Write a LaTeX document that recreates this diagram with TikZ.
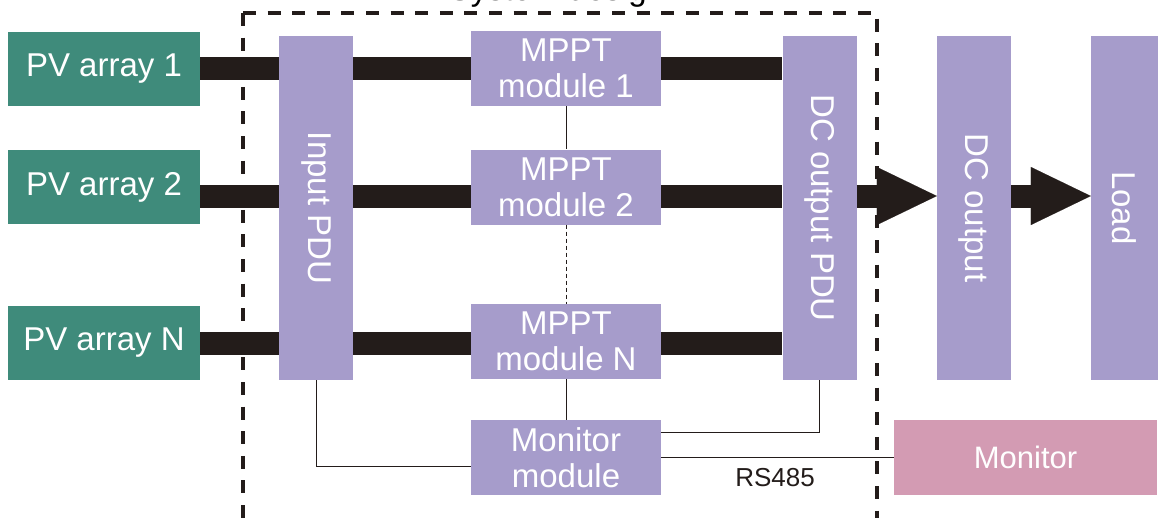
\documentclass[tikz,border=0pt]{standalone}
\usepackage{fontspec}
\setmainfont{Liberation Sans}
\usetikzlibrary{arrows.meta, positioning}

\definecolor{pvgreen}{HTML}{3F8B7B}
\definecolor{boxpurple}{HTML}{A69CCB}
\definecolor{monpink}{HTML}{D39BB3}
\definecolor{busblack}{HTML}{231C1A}

\begin{document}
\begin{tikzpicture}[
  x=1pt, y=-1pt, font=\fontsize{33}{36}\selectfont,
  blk/.style={fill=boxpurple, text=white, align=center, inner sep=0pt,
              minimum width=190pt, minimum height=75pt},
  pv/.style={blk, fill=pvgreen, minimum width=192pt, minimum height=74pt},
  pdu/.style={blk, minimum width=74pt, minimum height=344pt},
  bus/.style={line width=23pt, draw=busblack},
  wire/.style={line width=0.9pt, draw=busblack},
  frame/.style={line width=3.2pt, dash pattern=on 13pt off 11.6pt, draw=busblack},
  bigtip/.style={-{Triangle[length=60pt, width=58pt, line width=0.1pt]}}]
  \clip (0,0) rectangle (1158,517);
  % bus levels
  \coordinate (b1) at (0,68.5);
  \coordinate (b2) at (0,196);
  \coordinate (bn) at (0,343);
  % system design frame
  \draw[frame] (243,13) -- (243,530);
  \draw[frame] (243,13) -- (877,13) -- (877,530);
  \node[anchor=base] (title) at (557,0) {System design};
  % PV arrays
  \node[pv] (pv1) at (104,69)  {PV array 1};
  \node[pv] (pv2) at (104,187) {PV array 2};
  \node[pv] (pvn) at (104,343) {PV array N};
  % PDUs and modules
  \node[pdu] (inpdu)  at (316,208)   {\rotatebox{-90}{Input PDU}};
  \node[blk] (mppt1)  at (566,68.5)  {MPPT\\module 1};
  \node[blk] (mppt2)  at (566,187)   {MPPT\\module 2};
  \node[blk] (mpptn)  at (566,341.5) {MPPT\\module N};
  \node[pdu] (outpdu) at (819.5,208) {\rotatebox{-90}{DC output PDU}};
  \node[blk] (monmod) at (566,457.5) {Monitor\\module};
  % outside the frame
  \node[pdu] (dcout) at (974,208) {\rotatebox{-90}{DC output}};
  \node[pdu, minimum width=67pt] (load) at (1124.5,208) {\rotatebox{-90}{Load}};
  \node[blk, fill=monpink, minimum width=263pt, font=\fontsize{31}{34}\selectfont]
    (monitor) at (1025.5,457.5) {Monitor};
  % power buses
  \draw[bus] (pv1.east |- b1) -- (inpdu.west |- b1);
  \draw[bus] (inpdu.east |- b1) -- (mppt1.west |- b1);
  \draw[bus] (mppt1.east |- b1) -- (outpdu.west |- b1);
  \draw[bus] (pv2.east |- b2) -- (inpdu.west |- b2);
  \draw[bus] (inpdu.east |- b2) -- (mppt2.west |- b2);
  \draw[bus] (mppt2.east |- b2) -- (outpdu.west |- b2);
  \draw[bus] (pvn.east |- bn) -- (inpdu.west |- bn);
  \draw[bus] (inpdu.east |- bn) -- (mpptn.west |- bn);
  \draw[bus] (mpptn.east |- bn) -- (outpdu.west |- bn);
  \draw[bus, bigtip] (outpdu.east |- b2) -- (dcout.west |- b2);
  \draw[bus, bigtip] (dcout.east |- b2) -- (load.west |- b2);
  % monitoring wires
  \draw[wire] (mppt1) -- (mppt2);
  \draw[wire, dash pattern=on 4pt off 3pt] (mppt2) -- (mpptn);
  \draw[wire] (mpptn) -- (monmod);
  \draw[wire] (inpdu.south) |- ([yshift=-8.5pt]monmod.west);
  \draw[wire] (outpdu.south) |- ([yshift=25.5pt]monmod.east);
  \draw[wire] (monmod.east) -- (monitor.west);
  \node[text=busblack, font=\fontsize{26}{30}\selectfont] (rs) at (775,478) {RS485};
\end{tikzpicture}
\end{document}
